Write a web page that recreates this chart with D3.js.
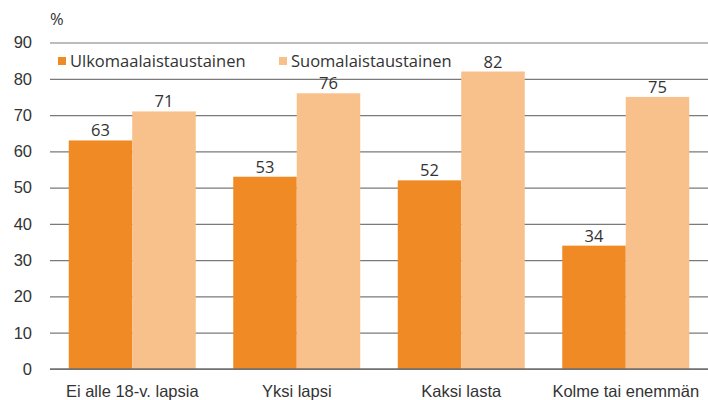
<!DOCTYPE html>
<html>
<head>
<meta charset="utf-8">
<script src="https://cdn.jsdelivr.net/npm/d3@7"></script>
<style>
  html, body { margin: 0; padding: 0; background: #fff; }
  svg { display: block; font-family: "Open Sans", "Noto Sans", sans-serif; }
</style>
</head>
<body>
<svg id="chart" width="708" height="400"></svg>
<script>
const categories = ["Ei alle 18-v. lapsia", "Yksi lapsi", "Kaksi lasta", "Kolme tai enemmän"];
const seriesNames = ["Ulkomaalaistaustainen", "Suomalaistaustainen"];
const foreignBackground = [63, 53, 52, 34];
const finnishBackground = [71, 76, 82, 75];
const yTicks = [0, 10, 20, 30, 40, 50, 60, 70, 80, 90];
const colors = ["#F08A24", "#F8C08A"];

const FONT = "16.5px";
const svg = d3.select("#chart");
const margin = { top: 42.5, right: 0, bottom: 31, left: 50 };
const W = 708, H = 400;
const innerW = W - margin.left - margin.right;
const innerH = H - margin.top - margin.bottom;

const g = svg.append("g").attr("transform", `translate(${margin.left},${margin.top})`);

const x = d3.scaleBand().domain(categories).range([0, innerW])
  .paddingInner(0.228).paddingOuter(0.114);
const xs = d3.scaleBand().domain(seriesNames).range([0, x.bandwidth()]);
const y = d3.scaleLinear().domain([0, 90]).range([innerH, 0]);

// horizontal gridlines
const yAxis = d3.axisLeft(y).tickValues(yTicks).tickSize(-innerW).tickPadding(18);
const ya = g.append("g").call(yAxis);
ya.select(".domain").remove();
ya.selectAll(".tick line").attr("stroke", "#7a7a7a").attr("stroke-width", 1.2);
ya.selectAll(".tick text").attr("fill", "#333").style("font-size", FONT);

const data = categories.map((c, i) => ({ cat: c, vals: [foreignBackground[i], finnishBackground[i]] }));

const groups = g.selectAll(".grp").data(data).join("g")
  .attr("transform", d => `translate(${x(d.cat)},0)`);

groups.selectAll("rect").data(d => d.vals.map((v, j) => ({ v, s: seriesNames[j], j })))
  .join("rect")
  .attr("x", d => xs(d.s))
  .attr("y", d => y(d.v))
  .attr("width", xs.bandwidth())
  .attr("height", d => innerH - y(d.v))
  .attr("fill", d => colors[d.j]);

groups.selectAll("text.val").data(d => d.vals.map((v, j) => ({ v, s: seriesNames[j] })))
  .join("text").attr("class", "val")
  .attr("x", d => xs(d.s) + xs.bandwidth() / 2)
  .attr("y", d => y(d.v) - 4)
  .attr("text-anchor", "middle")
  .attr("fill", "#333")
  .style("font-size", FONT)
  .text(d => d.v);

// zero baseline
g.append("line").attr("x1", 0).attr("x2", innerW).attr("y1", y(0)).attr("y2", y(0))
  .attr("stroke", "#6f6f6f").attr("stroke-width", 1.5);

// category labels
const xAxis = d3.axisBottom(x).tickSize(0).tickPadding(16);
const xa = g.append("g").attr("transform", `translate(0,${innerH})`).call(xAxis);
xa.select(".domain").remove();
xa.selectAll(".tick text").attr("fill", "#333").style("font-size", FONT);

// unit label
svg.append("text").attr("x", 50).attr("y", 25).attr("fill", "#333")
  .style("font-size", FONT).text("%");

// legend
const legendX = [58, 279];
const legend = svg.selectAll(".leg").data(seriesNames).join("g")
  .attr("transform", (d, i) => `translate(${legendX[i]},57)`);
legend.append("rect").attr("width", 8).attr("height", 8).attr("y", 0)
  .attr("fill", (d, i) => colors[i]);
legend.append("text").attr("x", 12).attr("y", 9.5).attr("fill", "#333")
  .style("font-size", FONT).text(d => d);
</script>
</body>
</html>
